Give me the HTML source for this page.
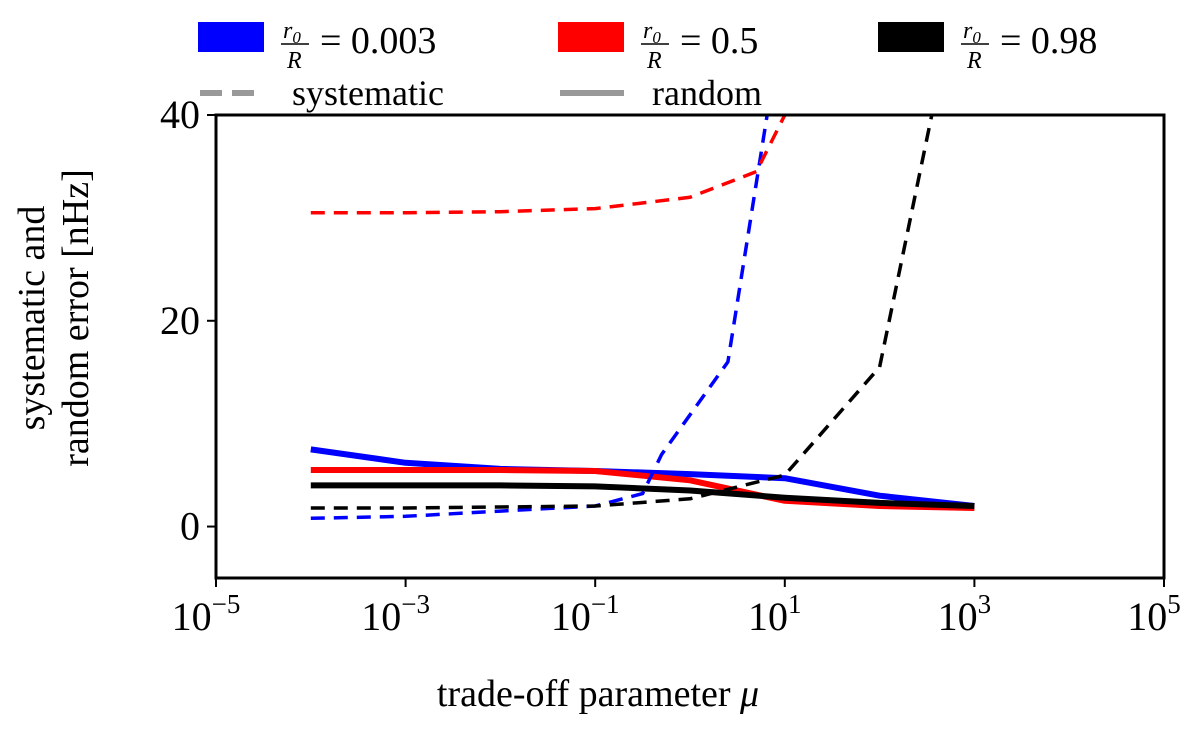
<!DOCTYPE html>
<html><head><meta charset="utf-8">
<style>
body{margin:0;background:#fff;}
svg text{font-family:"Liberation Serif","DejaVu Serif",serif;fill:#000;}
</style></head>
<body>
<svg id="chart" width="1200" height="726" viewBox="0 0 1200 726" xmlns="http://www.w3.org/2000/svg">
<defs><clipPath id="clip"><rect x="216" y="115" width="948" height="463"/></clipPath></defs>
<g id="legend">
  <rect x="198" y="22" width="66" height="30" fill="#0000ff"/>
  <text x="283" y="38" font-size="24" font-style="italic">r<tspan font-size="17" dy="5">0</tspan></text>
  <line x1="281" y1="44" x2="309" y2="44" stroke="#000" stroke-width="1.5"/>
  <text x="287" y="68" font-size="24" font-style="italic">R</text>
  <text x="320" y="53" font-size="38">= 0.003</text>
  <rect x="558" y="22" width="66" height="30" fill="#ff0000"/>
  <text x="643" y="38" font-size="24" font-style="italic">r<tspan font-size="17" dy="5">0</tspan></text>
  <line x1="641" y1="44" x2="669" y2="44" stroke="#000" stroke-width="1.5"/>
  <text x="647" y="68" font-size="24" font-style="italic">R</text>
  <text x="680" y="53" font-size="38">= 0.5</text>
  <rect x="878" y="22" width="66" height="30" fill="#000"/>
  <text x="963" y="38" font-size="24" font-style="italic">r<tspan font-size="17" dy="5">0</tspan></text>
  <line x1="961" y1="44" x2="989" y2="44" stroke="#000" stroke-width="1.5"/>
  <text x="967" y="68" font-size="24" font-style="italic">R</text>
  <text x="1000" y="53" font-size="38">= 0.98</text>
  <line x1="200" y1="93" x2="262" y2="93" stroke="#999" stroke-width="6" stroke-dasharray="22,10"/>
  <text x="292" y="105" font-size="36">systematic</text>
  <line x1="560" y1="93" x2="624" y2="93" stroke="#999" stroke-width="6"/>
  <text x="652" y="105" font-size="36">random</text>
</g>
<g id="ticks"></g>
<g id="series" clip-path="url(#clip)"></g>
<rect x="216" y="115" width="948" height="463" fill="none" stroke="#000" stroke-width="3"/>
<text x="598" y="706" font-size="38" text-anchor="middle">trade-off parameter <tspan font-style="italic">μ</tspan></text>
<text transform="translate(44,318) rotate(-90)" font-size="38" text-anchor="middle">systematic and</text>
<text transform="translate(88,318) rotate(-90)" font-size="38" text-anchor="middle">random error [nHz]</text>
</svg>
<script>
const xLogTicks = [-5,-3,-1,1,3,5];
const yTicks = [0,20,40];
const sysX = {
  blue: [-4,-3,-2,-1,-0.5,-0.3,0.4,0.9],
  red: [-4,-3,-2,-1,0,0.7,1,1.2],
  black: [-4,-3,-2,-1,0,1,2,3]
};
const sysBlue = [0.8,1.0,1.5,2.0,3.2,7.0,16,45];
const sysRed = [30.5,30.5,30.6,30.9,32,34.5,40,50];
const sysBlack = [1.8,1.8,1.9,2.0,2.7,5.0,15.5,60];
const randX = [-4,-3,-2,-1,0,1,2,3];
const randBlue = [7.5,6.2,5.6,5.4,5.1,4.7,3.0,2.0];
const randRed = [5.5,5.5,5.5,5.4,4.5,2.5,2.0,1.8];
const randBlack = [4.0,4.0,4.0,3.9,3.5,2.8,2.3,2.0];

const X0=216,X1=1164,Y0=578,Y1=115;
const xS = l => X0 + (l+5)/10*(X1-X0);
const yS = v => Y0 - (v+5)/45*(Y0-Y1);
const NS="http://www.w3.org/2000/svg";
const ticks=document.getElementById('ticks');
const series=document.getElementById('series');
function mk(tag,attrs,parent){const e=document.createElementNS(NS,tag);for(const k in attrs)e.setAttribute(k,attrs[k]);parent.appendChild(e);return e;}
xLogTicks.forEach(t=>{
  const x=xS(t);
  const l=mk('line',{x1:x,y1:Y0,x2:x,y2:Y0+9,stroke:'#000','stroke-width':2},ticks);
  
  
  const tx=mk('text',{x:x-10,y:Y0+52,'font-size':40,'text-anchor':'middle'},ticks);
  
  
  tx.textContent='10';
  const sp=document.createElementNS(NS,'tspan');sp.setAttribute('font-size','27');sp.setAttribute('dy','-17');sp.textContent=(t<0?'−':'')+Math.abs(t);tx.appendChild(sp);
});
yTicks.forEach(t=>{
  const y=yS(t);
  const l=mk('line',{x1:X0-9,y1:y,x2:X0,y2:y,stroke:'#000','stroke-width':2},ticks);
  
  
  const tx=mk('text',{x:X0-16,y:y+13,'font-size':40,'text-anchor':'end'},ticks);
  
  
  tx.textContent=t;
});
function line(xs,vs,color,dashed,name){
  const d=xs.map((x,i)=>(i?'L':'M')+xS(x).toFixed(1)+','+yS(vs[i]).toFixed(1)).join('');
  const p=mk('path',{d:d,fill:'none',stroke:color,'stroke-width':dashed?3.5:6,'stroke-dasharray':dashed?'14,9':'none','stroke-linejoin':'round'},series);
  
  
}
line(randX,randBlue,'#0000ff',false,'random-line-blue');
line(randX,randRed,'#ff0000',false,'random-line-red');
line(randX,randBlack,'#000000',false,'random-line-black');
line(sysX.blue,sysBlue,'#0000ff',true,'systematic-line-blue');
line(sysX.red,sysRed,'#ff0000',true,'systematic-line-red');
line(sysX.black,sysBlack,'#000000',true,'systematic-line-black');
</script>
</body></html>
